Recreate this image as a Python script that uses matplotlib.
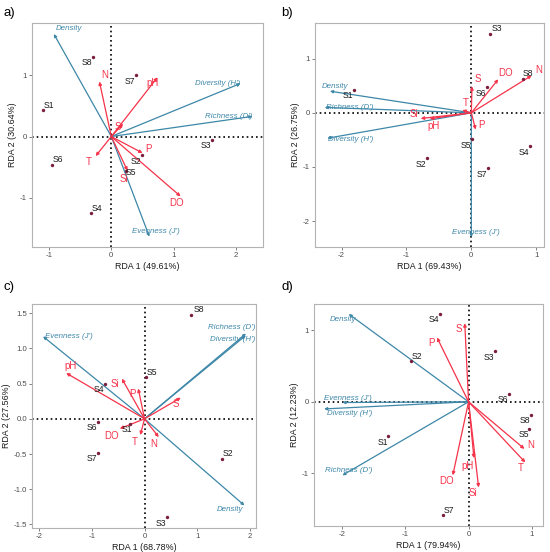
import matplotlib
matplotlib.use("Agg")
import matplotlib.pyplot as plt

plt.rcParams['font.family'] = ['Liberation Sans', 'DejaVu Sans']

sites = ["S1", "S2", "S3", "S4", "S5", "S6", "S7", "S8"]
species = ["Density", "Richness (D')", "Diversity (H')", "Evenness (J')"]
env = ["N", "pH", "S", "P", "Si", "DO", "T"]

# ---- panel a ----
a_site_x = [-1.10, 0.49, 1.61, -0.33, 0.24, -0.95, 0.39, -0.29]
a_site_y = [0.43, -0.31, -0.05, -1.26, -0.57, -0.46, 1.00, 1.31]
a_spe_x = [-0.92, 2.26, 2.07, 0.61]
a_spe_y = [1.68, 0.33, 0.87, -1.64]
a_env_x = [-0.19, 0.74, 0.19, 0.50, 0.26, 1.11, -0.25]
a_env_y = [0.90, 0.97, 0.21, -0.27, -0.56, -0.98, -0.32]

# ---- panel b ----
b_site_x = [-1.81, -0.68, 0.28, 0.91, 0.01, 0.235, 0.25, 0.79]
b_site_y = [0.43, -0.84, 1.46, -0.62, -0.49, 0.47, -1.02, 0.63]
b_spe_x = [-2.18, -2.26, -2.22, 0.0]
b_spe_y = [0.40, 0.10, -0.47, -2.30]
b_env_x = [0.93, -0.64, 0.01, 0.066, -0.78, 0.415, -0.14]
b_env_y = [0.69, -0.11, 0.49, -0.31, -0.105, 0.62, 0.05]

# ---- panel c ----
c_site_x = [-0.27, 1.47, 0.42, -0.75, 0.03, -0.89, -0.89, 0.88]
c_site_y = [-0.08, -0.57, -1.40, 0.50, 0.59, -0.04, -0.48, 1.48]
c_spe_x = [1.90, 1.93, 1.92, -1.93]
c_spe_y = [-1.23, 1.21, 1.18, 1.17]
c_env_x = [0.27, -1.49, 0.69, -0.12, -0.43, -0.47, -0.08]
c_env_y = [-0.26, 0.65, 0.30, 0.43, 0.57, -0.14, -0.23]

# ---- panel d ----
d_site_x = [-1.27, -0.91, 0.42, -0.45, 0.965, 0.64, -0.40, 0.99]
d_site_y = [-0.48, 0.57, 0.71, 1.23, -0.38, 0.11, -1.59, -0.18]
d_spe_x = [-1.90, -2.00, -2.29, -2.00]
d_spe_y = [1.23, -1.03, -0.10, -0.01]
d_env_x = [0.886, 0.085, -0.06, -0.50, 0.16, -0.25, 0.90]
d_env_y = [-0.66, -0.79, 1.10, 0.90, -1.20, -1.03, -0.85]

x_titles = ["RDA 1 (49.61%)", "RDA 1 (69.43%)", "RDA 1 (68.78%)", "RDA 1 (79.94%)"]
y_titles = ["RDA 2 (30.64%)", "RDA 2 (26.75%)", "RDA 2 (27.56%)", "RDA 2 (12.23%)"]
panel_tags = ["a)", "b)", "c)", "d)"]

RED = "#F5334A"
BLUE = "#3D87A8"
DOT = "#7A1E3C"
TICKC = "#4D4D4D"

# label offsets in pixels (style only)
UR, DL = (6, 5), (-6, -6)
a_site_off = [UR, DL, DL, UR, (5, -1), UR, DL, DL]
b_site_off = [DL, DL, (7, 5), DL, DL, DL, DL, (5, 5)]
c_site_off = [(-3, -5), UR, DL, DL, UR, DL, DL, (8, 5)]
d_site_off = [DL, UR, DL, DL, DL, DL, UR, DL]

a_env_off = [(5, 7), (-5, -6), (-5, -3), (6, 4), (-4, -8), (-4, -7), (-7, -6)]
b_env_off = [(7, 5), (4, -7), (6, 7), (6, 5), (-7, 4), (7, 6), (3, 7)]
c_env_off = [(-5, -7), (4, 7), (-5, -6), (-6, -5), (-7, -5), (-8, -7), (-6, -7)]
d_env_off = [(6, 4), (-6, -8), (-6, -6), (-6, -5), (-6, -6), (-6, -6), (-5, -6)]

# (dx, dy, ha)
a_spe_off = [(2, 5, 'left'), (0, 0, 'right'), (0, 0, 'right'), (7, 5, 'center')]
b_spe_off = [(5, 5, 'center'), (1, 0, 'left'), (1, -1, 'left'), (5, 5, 'center')]
c_spe_off = [(-14, -4, 'center'), (-14, 6, 'center'), (-13, -4, 'center'), (2, 0, 'left')]
d_spe_off = [(-6, -6, 'center'), (6, 5, 'center'), (3, -5, 'left'), (5, 4, 'center')]

panels = [
    (a_site_x, a_site_y, a_spe_x, a_spe_y, a_env_x, a_env_y, a_site_off, a_env_off, a_spe_off,
     (-1.27, 2.43), (-1.81, 1.86), [-1, 0, 1, 2], [-1, 0, 1], ["-1", "0", "1", "2"], ["-1", "0", "1"]),
    (b_site_x, b_site_y, b_spe_x, b_spe_y, b_env_x, b_env_y, b_site_off, b_env_off, b_spe_off,
     (-2.41, 1.12), (-2.48, 1.66), [-2, -1, 0, 1], [-2, -1, 0, 1], ["-2", "-1", "0", "1"], ["-2", "-1", "0", "1"]),
    (c_site_x, c_site_y, c_spe_x, c_spe_y, c_env_x, c_env_y, c_site_off, c_env_off, c_spe_off,
     (-2.14, 2.12), (-1.55, 1.63), [-2, -1, 0, 1, 2], [-1.5, -1.0, -0.5, 0.0, 0.5, 1.0, 1.5],
     ["-2", "-1", "0", "1", "2"], ["-1.5", "-1.0", "-0.5", "0.0", "0.5", "1.0", "1.5"]),
    (d_site_x, d_site_y, d_spe_x, d_spe_y, d_env_x, d_env_y, d_site_off, d_env_off, d_spe_off,
     (-2.45, 1.18), (-1.74, 1.37), [-2, -1, 0, 1], [-1, 0, 1], ["-2", "-1", "0", "1"], ["-1", "0", "1"]),
]

W, H = 550, 552
boxes = [(32, 263, 23, 247), (315, 544, 23, 247), (32, 256, 304, 528), (314, 543, 304, 526)]
tag_pos = [(4, 13), (281, 13), (3, 287), (281, 287)]

fig = plt.figure(figsize=(5.5, 5.52), dpi=100)

for i, (sx, sy, px, py, ex, ey, soff, eoff, poff, xl, yl, xt, yt, xtl, ytl) in enumerate(panels):
    l, r, t, b = boxes[i]
    ax = fig.add_axes([l / W, 1 - b / H, (r - l) / W, (b - t) / H])
    ax.set_xlim(*xl)
    ax.set_ylim(*yl)
    ax.axhline(0, color='black', linestyle=(0, (1, 1.8)), linewidth=1.2, zorder=1)
    ax.axvline(0, color='black', linestyle=(0, (1, 1.8)), linewidth=1.2, zorder=1)

    # species arrows
    for name, x, y, (dx, dy, ha) in zip(species, px, py, poff):
        ax.annotate("", xy=(x, y), xytext=(0, 0),
                    arrowprops=dict(arrowstyle='-|>', color=BLUE, lw=0.9,
                                    mutation_scale=4, shrinkA=0, shrinkB=0), zorder=2)
        ax.annotate(name, xy=(x, y), xytext=(dx, dy), textcoords='offset pixels',
                    ha=ha, va='center', color=BLUE, fontsize=5.7, style='italic', zorder=5)
    # env arrows
    for name, x, y, (dx, dy) in zip(env, ex, ey, eoff):
        ax.annotate("", xy=(x, y), xytext=(0, 0),
                    arrowprops=dict(arrowstyle='-|>', color=RED, lw=0.9,
                                    mutation_scale=4.5, shrinkA=0, shrinkB=0), zorder=3)
        ax.annotate(name, xy=(x, y), xytext=(dx, dy), textcoords='offset pixels',
                    ha='center', va='center', color=RED, fontsize=7, zorder=5)
    # sites
    ax.scatter(sx, sy, s=6, color=DOT, zorder=4, linewidths=0)
    for name, x, y, (dx, dy) in zip(sites, sx, sy, soff):
        ax.annotate(name, xy=(x, y), xytext=(dx, dy), textcoords='offset pixels',
                    ha='center', va='center', color='#1A1A1A', fontsize=6.2, zorder=5)

    ax.set_xticks(xt)
    ax.set_xticklabels(xtl)
    ax.set_yticks(yt)
    ax.set_yticklabels(ytl)
    ax.tick_params(labelsize=5.6, colors=TICKC, length=2, width=0.5, pad=1.5)
    for sp in ax.spines.values():
        sp.set_color('#B3B3B3')
        sp.set_linewidth(0.8)
    ax.set_xlabel(x_titles[i], fontsize=6.4, color='#1A1A1A', labelpad=2)
    ax.set_ylabel(y_titles[i], fontsize=6.4, color='#1A1A1A', labelpad=2)
    fig.text(tag_pos[i][0] / W, 1 - tag_pos[i][1] / H, panel_tags[i], fontsize=9.5,
             ha='left', va='center', color='black')

fig.savefig("out.png", dpi=100, facecolor='white')
